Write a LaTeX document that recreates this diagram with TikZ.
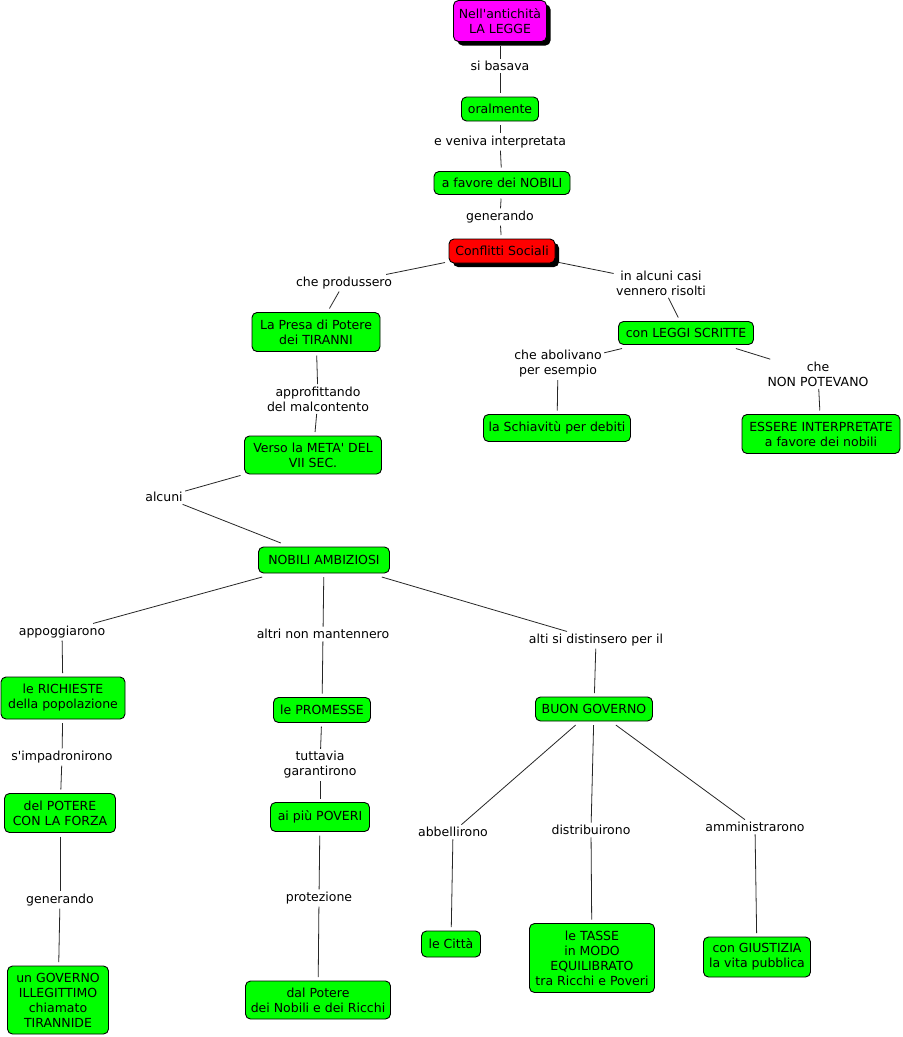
\documentclass[tikz,border=0pt]{standalone}
\usepackage{fontspec}
\setmainfont{DejaVu Sans}
\usetikzlibrary{shadows}
\definecolor{cgreen}{RGB}{0,255,0}
\definecolor{cmag}{RGB}{255,0,255}
\definecolor{cred}{RGB}{255,0,0}
\newcommand\apo{\textquotesingle}
\begin{document}
\begin{tikzpicture}[x=1pt,y=-1pt,
  box/.style={draw=black, line width=0.9pt, rounded corners=5pt, fill=cgreen,
    align=center, inner sep=0pt, outer sep=4pt, text=black,
    font=\fontsize{12.5}{15}\selectfont},
  shad/.style={drop shadow={shadow xshift=4pt, shadow yshift=-4pt, fill=black, opacity=1}},
  lab/.style={align=center, inner sep=0pt, outer sep=2.5pt, text=black,
    font=\fontsize{12.5}{15}\selectfont},
  con/.style={draw=black!85, line width=0.8pt}]
\useasboundingbox[fill=white] (0,0) rectangle (903,1037);

% concepts
\node[box, shad, fill=cmag, minimum width=93pt, minimum height=41pt] (top) at (500,21) {Nell\apo antichità\\LA LEGGE};
\node[box, minimum width=77pt, minimum height=24pt] (oral) at (500,109) {oralmente};
\node[box, minimum width=136pt, minimum height=23pt] (favore) at (502,183) {a favore dei NOBILI};
\node[box, shad, fill=cred, minimum width=106pt, minimum height=24pt] (confl) at (502,251) {Conflitti Sociali};
\node[box, minimum width=128pt, minimum height=39pt] (presa) at (316,332) {La Presa di Potere\\dei TIRANNI};
\node[box, minimum width=137pt, minimum height=38pt] (verso) at (313,455) {Verso la META\apo{} DEL\\VII SEC.};
\node[box, minimum width=131pt, minimum height=26pt] (nobili) at (324,560) {NOBILI AMBIZIOSI};
\node[box, minimum width=135pt, minimum height=23pt] (leggi) at (686,333) {con LEGGI SCRITTE};
\node[box, minimum width=147pt, minimum height=27pt] (schiav) at (557,428) {la Schiavitù per debiti};
\node[box, minimum width=158pt, minimum height=39pt] (essere) at (821,434) {ESSERE INTERPRETATE\\a favore dei nobili};
\node[box, minimum width=124pt, minimum height=42pt] (rich) at (63,698) {le RICHIESTE\\della popolazione};
\node[box, minimum width=111pt, minimum height=39pt] (potere) at (60,813) {del POTERE\\CON LA FORZA};
\node[box, minimum width=101pt, minimum height=68pt] (govil) at (58,1000) {un GOVERNO\\ILLEGITTIMO\\chiamato\\TIRANNIDE};
\node[box, minimum width=97pt, minimum height=25pt] (prom) at (322,710) {le PROMESSE};
\node[box, minimum width=99pt, minimum height=29pt] (poveri) at (320,817) {ai più POVERI};
\node[box, minimum width=145pt, minimum height=38pt] (dalpot) at (318,1000) {dal Potere\\dei Nobili e dei Ricchi};
\node[box, minimum width=117pt, minimum height=24pt] (buon) at (594,709) {BUON GOVERNO};
\node[box, minimum width=59pt, minimum height=26pt] (citta) at (451,944) {le Città};
\node[box, minimum width=125pt, minimum height=69pt] (tasse) at (592,958) {le TASSE\\in MODO\\EQUILIBRATO\\tra Ricchi e Poveri};
\node[box, minimum width=107pt, minimum height=40pt] (giust) at (757,957) {con GIUSTIZIA\\la vita pubblica};

% linking phrases
\node[lab] (sibasava) at (500,66) {si basava};
\node[lab] (eveniva) at (500,142) {e veniva interpretata};
\node[lab] (gen1) at (500,217) {generando};
\node[lab] (cheprod) at (344,283) {che produssero};
\node[lab] (inalcuni) at (661,283) {in alcuni casi\\vennero risolti};
\node[lab] (approf) at (318,399) {approfittando\\del malcontento};
\node[lab] (alcuni) at (164,497) {alcuni};
\node[lab] (cheabol) at (558,364) {che abolivano\\per esempio};
\node[lab] (chenon) at (818,374) {che\\NON POTEVANO};
\node[lab] (appogg) at (62,632) {appoggiarono};
\node[lab] (simpad) at (62,757) {s\apo impadronirono};
\node[lab] (gen2) at (60,900) {generando};
\node[lab] (altrinon) at (323,634) {altri non mantennero};
\node[lab] (tuttavia) at (320,765) {tuttavia\\garantirono};
\node[lab] (protez) at (319,898) {protezione};
\node[lab] (alti) at (596,640) {alti si distinsero per il};
\node[lab] (abbell) at (453,832) {abbellirono};
\node[lab] (distrib) at (591,830) {distribuirono};
\node[lab] (ammin) at (755,827) {amministrarono};

% connectors
\draw[con] (top) -- (sibasava);
\draw[con] (sibasava) -- (oral);
\draw[con] (oral) -- (eveniva);
\draw[con] (eveniva) -- (favore);
\draw[con] (favore) -- (gen1);
\draw[con] (gen1) -- (confl);
\draw[con] (confl) -- (cheprod);
\draw[con] (cheprod) -- (presa);
\draw[con] (confl) -- (inalcuni);
\draw[con] (inalcuni) -- (leggi);
\draw[con] (presa) -- (approf);
\draw[con] (approf) -- (verso);
\draw[con] (verso) -- (alcuni);
\draw[con] (alcuni) -- (nobili);
\draw[con] (leggi) -- (cheabol);
\draw[con] (cheabol) -- (schiav);
\draw[con] (leggi) -- (chenon);
\draw[con] (chenon) -- (essere);
\draw[con] (nobili) -- (appogg);
\draw[con] (appogg) -- (rich);
\draw[con] (rich) -- (simpad);
\draw[con] (simpad) -- (potere);
\draw[con] (potere) -- (gen2);
\draw[con] (gen2) -- (govil);
\draw[con] (nobili) -- (altrinon);
\draw[con] (altrinon) -- (prom);
\draw[con] (prom) -- (tuttavia);
\draw[con] (tuttavia) -- (poveri);
\draw[con] (poveri) -- (protez);
\draw[con] (protez) -- (dalpot);
\draw[con] (nobili) -- (alti);
\draw[con] (alti) -- (buon);
\draw[con] (buon) -- (abbell);
\draw[con] (abbell) -- (citta);
\draw[con] (buon) -- (distrib);
\draw[con] (distrib) -- (tasse);
\draw[con] (buon) -- (ammin);
\draw[con] (ammin) -- (giust);
\end{tikzpicture}
\end{document}
